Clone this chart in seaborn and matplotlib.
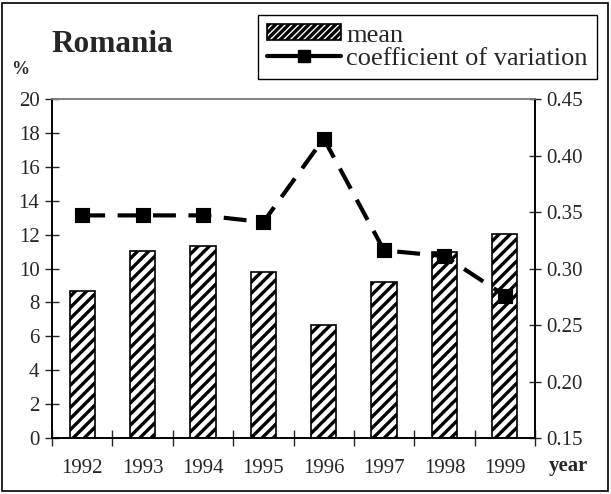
import matplotlib
matplotlib.use("Agg")
import matplotlib.pyplot as plt
import seaborn as sns
import pandas as pd
from matplotlib.lines import Line2D
from matplotlib.patches import Patch, Rectangle
from matplotlib.ticker import FixedLocator

years = ["1992", "1993", "1994", "1995", "1996", "1997", "1998", "1999"]
mean_vals = [8.7, 11.05, 11.3, 9.8, 6.65, 9.2, 11.0, 12.05]
cv_vals = [0.347, 0.347, 0.347, 0.341, 0.415, 0.316, 0.311, 0.276]
left_ticks = [0, 2, 4, 6, 8, 10, 12, 14, 16, 18, 20]
right_ticks = [0.15, 0.20, 0.25, 0.30, 0.35, 0.40, 0.45]

sns.set_style("white")
plt.rcParams["font.family"] = ["Liberation Serif", "DejaVu Serif"]
plt.rcParams["hatch.linewidth"] = 2.4

df = pd.DataFrame({"year": years, "mean": mean_vals, "cv": cv_vals})

fig = plt.figure(figsize=(6.11, 4.94), dpi=100)
fig.patch.set_facecolor("white")
ax = fig.add_axes([52/611, 1-438/494, (535-52)/611, (438-99)/494])

sns.barplot(data=df, x="year", y="mean", ax=ax, color="white", edgecolor="black",
            hatch="///", width=0.42, linewidth=1.2, saturation=1)
ax.set_ylim(0, 20)
ax.set_xlim(-0.5, 7.5)
ax.yaxis.set_major_locator(FixedLocator(left_ticks))
ax.set_yticklabels([str(t) for t in left_ticks])
ax.set_xlabel("")
ax.set_ylabel("")
ax.tick_params(axis="y", direction="inout", length=10, width=1, labelsize=15, pad=4, left=True)
ax.tick_params(axis="x", which="major", length=0, labelsize=15, pad=15)
ax.xaxis.set_minor_locator(FixedLocator([i - 0.5 for i in range(len(years) + 1)]))
ax.tick_params(axis="x", which="minor", direction="inout", length=12, width=1, bottom=True)

ax2 = ax.twinx()
sns.pointplot(data=df, x="year", y="cv", ax=ax2, color="black", markers="s",
              linestyles="--", markersize=8, linewidth=3)
for ln in ax2.lines:
    ln.set_dashes((5.5, 3))
ax2.set_ylim(0.15, 0.45)
ax2.set_xlim(-0.5, 7.5)
ax2.yaxis.set_major_locator(FixedLocator(right_ticks))
ax2.set_yticklabels([f"{t:.2f}" for t in right_ticks])
ax2.set_ylabel("")
ax2.set_xlabel("")
ax2.tick_params(axis="y", direction="inout", length=8, width=1, labelsize=15, pad=4, right=True)

for a in (ax, ax2):
    for s in ("left", "right", "bottom"):
        a.spines[s].set_color("black")
        a.spines[s].set_linewidth(1.2)
    a.spines["top"].set_color("#808080")
    a.spines["top"].set_linewidth(1.2)

fig.text(51/611, 1-45/494, "Romania", fontsize=22.5, fontweight="bold", va="center", ha="left")
fig.text(11/611, 1-70/494, "%", fontsize=13, fontweight="bold", va="center", ha="left")
fig.text(549/611, 1-466/494, "year", fontsize=15, fontweight="bold", va="center", ha="left")

handles = [
    Patch(facecolor="white", edgecolor="black", hatch="/////", linewidth=1.2),
    Line2D([0], [0], color="black", linewidth=3, marker="s", markersize=8),
]
leg = fig.legend(handles, ["mean", "coefficient of variation"], loc="upper right",
                 bbox_to_anchor=(597/611, 1-15/494), fontsize=19, frameon=True,
                 fancybox=False, edgecolor="black", framealpha=1, handlelength=2.8,
                 handleheight=0.55, handletextpad=0.2, borderpad=0.35, labelspacing=0.05,
                 borderaxespad=0)
leg.get_frame().set_linewidth(1)

fig.patches.append(Rectangle((2/611, 3/494), 606/611, 488/494, transform=fig.transFigure,
                             fill=False, edgecolor="black", linewidth=1.2))

fig.savefig("out.png", dpi=100)
